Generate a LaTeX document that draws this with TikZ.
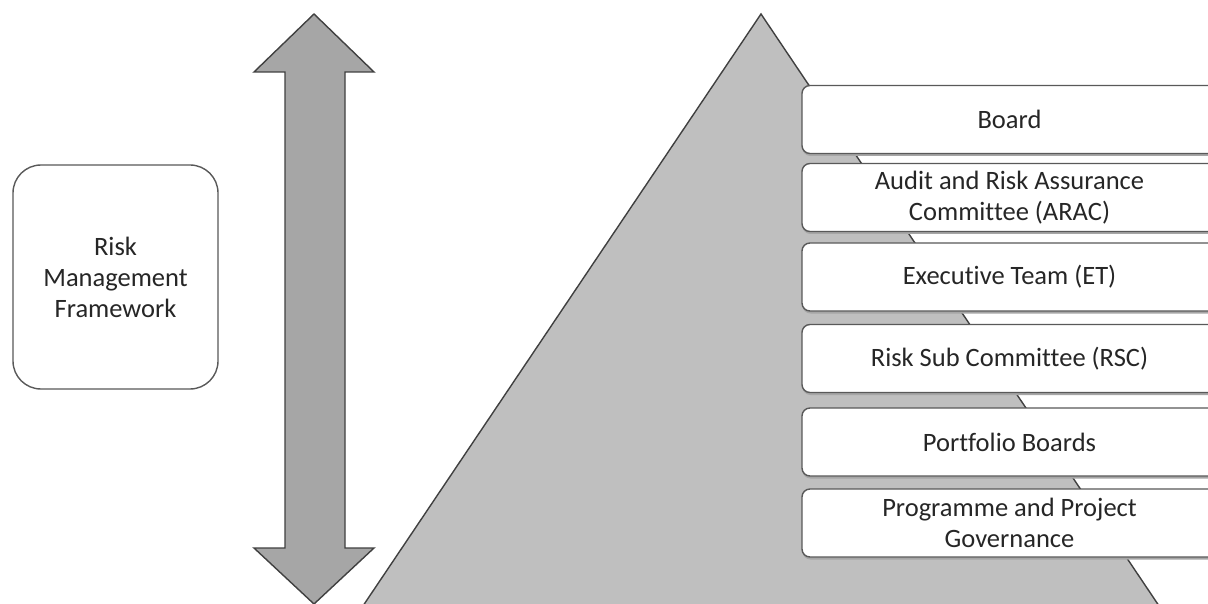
\documentclass[tikz,border=0pt]{standalone}
\usepackage{fontspec}
\setmainfont{Carlito}[Ligatures=NoCommon]
\usetikzlibrary{shadows}
\definecolor{pyrfill}{HTML}{BFBFBF}
\definecolor{arrfill}{HTML}{A6A6A6}
\definecolor{edgecol}{HTML}{404040}
\definecolor{boxline}{HTML}{595959}
\definecolor{txtcol}{HTML}{262626}
\begin{document}
\begin{tikzpicture}[x=1pt,y=-1pt,
  txt/.style={font=\fontsize{26.5}{31}\selectfont, text=txtcol, align=center},
  lvl/.style={txt, draw=boxline, line width=1.4pt, fill=white, rounded corners=8pt,
    minimum width=415pt, minimum height=68pt, inner sep=0pt,
    drop shadow={shadow xshift=0.5pt, shadow yshift=-2.5pt, fill=black!35, opacity=1}},
  rmf/.style={txt, draw=boxline, line width=1.4pt, fill=white, rounded corners=28pt,
    minimum width=205pt, minimum height=224pt, inner sep=0pt},
  pyr/.style={draw=edgecol, line width=1.4pt, fill=pyrfill, line join=miter},
  arr/.style={draw=edgecol, line width=1.4pt, fill=arrfill, line join=miter}]
\useasboundingbox (0,0) rectangle (1208,604);
\clip (0,0) rectangle (1208,604);
\fill[white] (0,0) rectangle (1208,604);
% pyramid
\draw[pyr] (761,14) -- (1168.5,620) -- (353.5,620) -- cycle;
% double arrow
\draw[arr] (314,14) -- (374,72) -- (345,72) -- (345,548) -- (374,548) -- (314,604)
  -- (254,548) -- (285,548) -- (285,72) -- (254,72) -- cycle;
% left box
\node[rmf] (rmf) at (115.5,277) {Risk\\Management\\Framework};
% levels
\node[lvl] (board) at (1009.5,119.5) {Board};
\node[lvl] (arac) at (1009.5,197.5) {Audit and Risk Assurance\\Committee (ARAC)};
\node[lvl] (et) at (1009.5,277) {Executive Team (ET)};
\node[lvl] (rsc) at (1009.5,358.5) {Risk Sub Committee (RSC)};
\node[lvl] (pb) at (1009.5,442) {Portfolio Boards};
\node[lvl] (ppg) at (1009.5,523) {Programme and Project\\Governance};
\end{tikzpicture}
\end{document}
